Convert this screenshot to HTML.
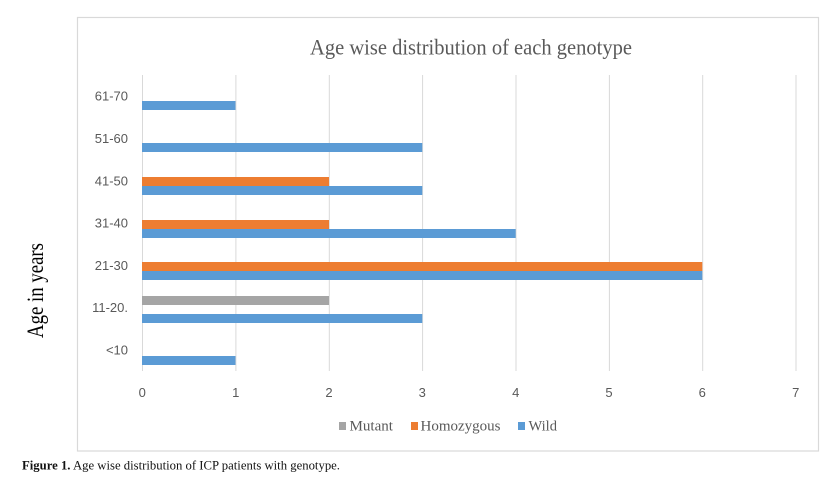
<!DOCTYPE html>
<html><head><meta charset="utf-8"><style>
html,body{margin:0;padding:0;background:#fff;}
svg{display:block;}
</style></head><body>
<svg width="838" height="477" viewBox="0 0 838 477" xmlns="http://www.w3.org/2000/svg">
<rect x="0" y="0" width="838" height="477" fill="#fff"/>
<rect x="77.5" y="17.5" width="741" height="433.5" fill="#fff" stroke="#d9d9d9" stroke-width="1.2"/>
<text x="471" y="54.5" font-family="Liberation Serif, serif" font-size="22" fill="#595959" text-anchor="middle" textLength="322" lengthAdjust="spacingAndGlyphs">Age wise distribution of each genotype</text>
<g stroke="#d9d9d9" stroke-width="1">
<line x1="142.5" y1="75" x2="142.5" y2="371"/>
<line x1="235.9" y1="75" x2="235.9" y2="371"/>
<line x1="329.3" y1="75" x2="329.3" y2="371"/>
<line x1="422.6" y1="75" x2="422.6" y2="371"/>
<line x1="516" y1="75" x2="516" y2="371"/>
<line x1="609.4" y1="75" x2="609.4" y2="371"/>
<line x1="702.7" y1="75" x2="702.7" y2="371"/>
<line x1="796" y1="75" x2="796" y2="371"/>
</g>
<g>
<rect x="142" y="101" width="93.5" height="9" fill="#5b9bd5"/>
<rect x="142" y="143" width="280.3" height="9" fill="#5b9bd5"/>
<rect x="142" y="177" width="187" height="9" fill="#ed7d31"/>
<rect x="142" y="186" width="280.3" height="9" fill="#5b9bd5"/>
<rect x="142" y="220" width="187" height="9" fill="#ed7d31"/>
<rect x="142" y="229" width="373.7" height="9" fill="#5b9bd5"/>
<rect x="142" y="262" width="560.3" height="9" fill="#ed7d31"/>
<rect x="142" y="271" width="560.3" height="9" fill="#5b9bd5"/>
<rect x="142" y="296" width="187" height="9" fill="#a5a5a5"/>
<rect x="142" y="314" width="280.3" height="9" fill="#5b9bd5"/>
<rect x="142" y="356" width="93.5" height="9" fill="#5b9bd5"/>
</g>
<g font-family="Liberation Sans, sans-serif" font-size="13" fill="#595959" text-anchor="end">
<text x="128" y="100.7">61-70</text>
<text x="128" y="143">51-60</text>
<text x="128" y="185.3">41-50</text>
<text x="128" y="227.6">31-40</text>
<text x="128" y="269.9">21-30</text>
<text x="128" y="312.2">11-20.</text>
<text x="128" y="354.5">&lt;10</text>
</g>
<g font-family="Liberation Sans, sans-serif" font-size="13" fill="#595959" text-anchor="middle">
<text x="142.3" y="397">0</text>
<text x="235.7" y="397">1</text>
<text x="329" y="397">2</text>
<text x="422.3" y="397">3</text>
<text x="515.7" y="397">4</text>
<text x="609" y="397">5</text>
<text x="702.3" y="397">6</text>
<text x="795.7" y="397">7</text>
</g>
<text transform="translate(43,290.5) rotate(-90)" font-family="Liberation Serif, serif" font-size="23" fill="#000" text-anchor="middle" textLength="95" lengthAdjust="spacingAndGlyphs">Age in years</text>
<g font-family="Liberation Serif, serif" font-size="15" fill="#595959">
<rect x="339" y="422" width="7" height="8" fill="#a5a5a5"/>
<text x="349.5" y="430.5" textLength="43.5" lengthAdjust="spacingAndGlyphs">Mutant</text>
<rect x="411" y="422" width="7" height="8" fill="#ed7d31"/>
<text x="420.5" y="430.5" textLength="80" lengthAdjust="spacingAndGlyphs">Homozygous</text>
<rect x="518" y="422" width="7" height="8" fill="#5b9bd5"/>
<text x="528.5" y="430.5" textLength="28.5" lengthAdjust="spacingAndGlyphs">Wild</text>
</g>
<text x="22" y="469.5" font-family="Liberation Serif, serif" font-size="12.5" fill="#111" textLength="318" lengthAdjust="spacingAndGlyphs"><tspan font-weight="bold">Figure 1.</tspan> Age wise distribution of ICP patients with genotype.</text>
</svg>
</body></html>
